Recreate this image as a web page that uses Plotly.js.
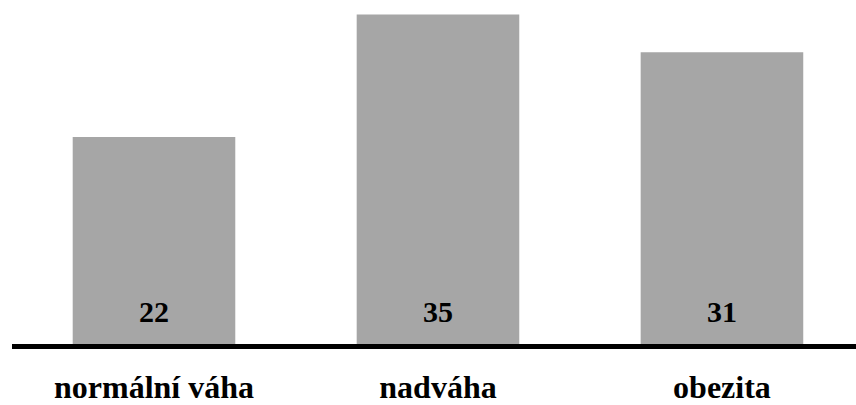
<!DOCTYPE html>
<html>
<head>
<meta charset="utf-8">
<script src="https://cdn.plot.ly/plotly-3.0.1.min.js"></script>
<style>
  html, body { margin: 0; padding: 0; background: #ffffff; }
  #chart { width: 856px; height: 405px; }
</style>
</head>
<body>
<div id="chart"></div>
<script>
// Body-weight groups and their counts
const categories = ['normální váha', 'nadváha', 'obezita'];
const values = [22, 35, 31];

const serif = '"Liberation Serif", "Times New Roman", Times, serif';

const trace = {
  type: 'bar',
  x: categories,
  y: values,
  marker: { color: '#a6a6a6', line: { width: 0 } },
  hoverinfo: 'skip'
};

// Value labels sit at the foot of each bar
const valueLabels = categories.map((c, i) => ({
  x: c,
  y: 0,
  xref: 'x',
  yref: 'y',
  text: String(values[i]),
  showarrow: false,
  yanchor: 'bottom',
  yshift: 14,
  font: { family: serif, size: 30, color: '#000000', weight: 'bold' }
}));

const layout = {
  width: 856,
  height: 405,
  margin: { l: 12, r: 0, t: 0, b: 61 },
  paper_bgcolor: '#ffffff',
  plot_bgcolor: '#ffffff',
  showlegend: false,
  bargap: 0.4275,
  xaxis: {
    type: 'category',
    range: [-0.5, 2.472],
    showline: true,
    linecolor: '#000000',
    linewidth: 5,
    ticks: '',
    showgrid: false,
    zeroline: false,
    ticklabelstandoff: 11,
    tickfont: { family: serif, size: 32, color: '#000000', weight: 'bold' },
    fixedrange: true
  },
  yaxis: {
    range: [0, 36.54],
    visible: false,
    showgrid: false,
    zeroline: false,
    fixedrange: true
  },
  annotations: valueLabels
};

Plotly.newPlot('chart', [trace], layout, { displayModeBar: false, staticPlot: true });
</script>
</body>
</html>
